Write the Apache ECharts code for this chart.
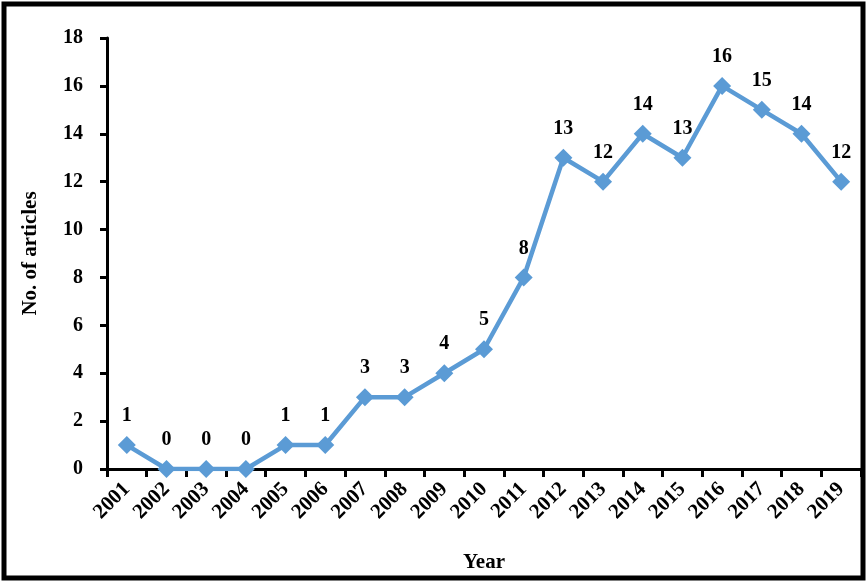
<!DOCTYPE html>
<html>
<head>
<meta charset="utf-8">
<script src="https://cdn.jsdelivr.net/npm/echarts@6/dist/echarts.min.js"></script>
<style>html,body{margin:0;padding:0;background:#fff}#c{width:867px;height:582px}</style>
</head>
<body>
<div id="c"></div>
<script>
const years = ['2001','2002','2003','2004','2005','2006','2007','2008','2009','2010','2011','2012','2013','2014','2015','2016','2017','2018','2019'];
const articles = [1,0,0,0,1,1,3,3,4,5,8,13,12,14,13,16,15,14,12];
const yTicks = {min:0, max:18, interval:2};

const font = '"Liberation Serif", "Times New Roman", serif';
const chart = echarts.init(document.getElementById('c'));
chart.setOption({
  animation:false,
  backgroundColor:'#fff',
  graphic:[{type:'rect', shape:{x:4, y:4, width:859, height:574}, style:{fill:'none', stroke:'#000', lineWidth:5}}],
  grid:{left:107, right:6, top:38, bottom:113},
  xAxis:{
    type:'category', data:years, boundaryGap:true,
    name:'Year', nameLocation:'middle', nameGap:83,
    nameTextStyle:{fontFamily:font, fontWeight:'bold', fontSize:21, color:'#000'},
    axisLine:{lineStyle:{color:'#000', width:3}},
    axisTick:{show:true, length:8, lineStyle:{color:'#000', width:3}, alignWithLabel:false},
    axisLabel:{rotate:45, margin:17, fontFamily:font, fontWeight:'bold', fontSize:21, color:'#000', interval:0}
  },
  yAxis:{
    type:'value', min:yTicks.min, max:yTicks.max, interval:yTicks.interval,
    name:'No. of articles', nameLocation:'middle', nameGap:66,
    nameTextStyle:{fontFamily:font, fontWeight:'bold', fontSize:21, color:'#000'},
    splitLine:{show:false},
    axisLine:{show:true, lineStyle:{color:'#000', width:3}},
    axisTick:{show:true, length:7, lineStyle:{color:'#000', width:3}},
    axisLabel:{margin:24, fontFamily:font, fontWeight:'bold', fontSize:20, color:'#000'}
  },
  series:[{
    type:'line', data:articles,
    symbol:'diamond', symbolSize:18,
    lineStyle:{color:'#5B9BD5', width:4.5},
    itemStyle:{color:'#5B9BD5'},
    label:{show:true, position:'top', distance:10, fontFamily:font, fontWeight:'bold', fontSize:20, color:'#000'}
  }]
});
</script>
</body>
</html>
